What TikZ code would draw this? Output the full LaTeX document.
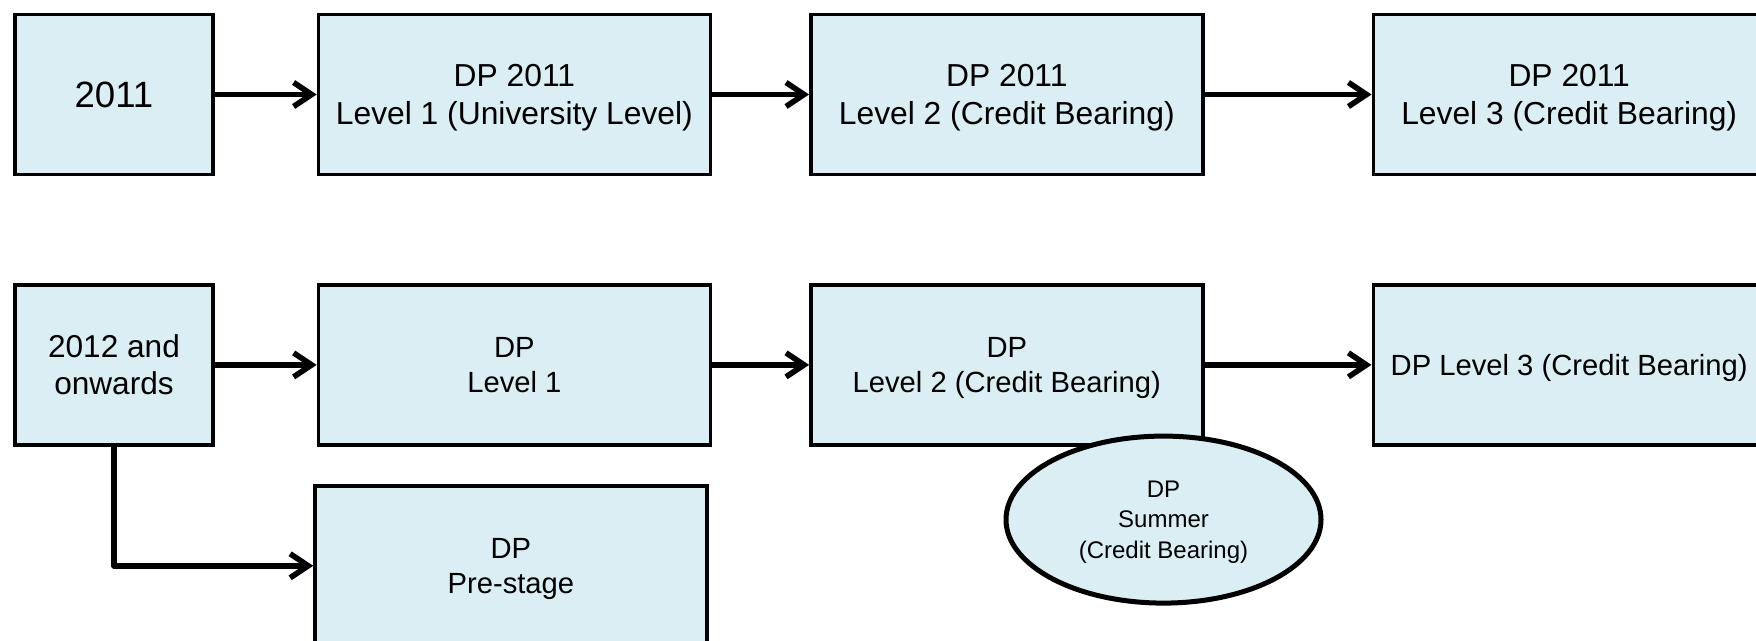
\documentclass[tikz,border=0pt]{standalone}
\usepackage{fontspec}
\setmainfont{Liberation Sans}
\usetikzlibrary{positioning,arrows.meta,shapes.geometric}
\definecolor{boxfill}{HTML}{DAEEF3}
\tikzset{
>={Straight Barb[length=9pt,width=12pt]},
  yearbox/.style={
    rectangle,
    fill=boxfill,
    draw=black, line width=1.7pt,
    minimum width=99pt,
    minimum height=80pt,
    align=center},
  levelbox/.style={
    rectangle,
    fill=boxfill,
    draw=black, line width=1.7pt,
    minimum width=196pt,
    minimum height=80pt,
    text depth=0pt,
    align=center,
    font=\fontsize{14.6}{17.5}\selectfont},
  oldlevel/.style={
    levelbox,
    font=\fontsize{15.9}{19}\selectfont},
  summerbox/.style={
    ellipse,
    fill=boxfill,
    draw=black, line width=2.5pt,
    minimum width=157.5pt,
    minimum height=83.5pt,
    inner sep=0pt,
    text depth=0pt,
    align=center,
    font=\fontsize{12}{15.25}\selectfont},
  line/.style={draw, line width=2.8pt, ->, line join=round},
}
\begin{document}
\begin{tikzpicture}
\useasboundingbox (0,0) rectangle (878pt,-320.5pt);
% 2011 intake
\node[yearbox, font=\fontsize{18.3}{21}\selectfont] (Old) at (57pt,-47.25pt) {2011};
\node[oldlevel, right=51pt of Old] (OldLevelOne) {DP 2011\\Level 1 (University Level)};
\node[oldlevel, right=48.5pt of OldLevelOne] (OldLevelTwo) {DP 2011\\Level 2 (Credit Bearing)};
\node[oldlevel, right=83.5pt of OldLevelTwo] (OldLevelThree) {DP 2011\\Level 3 (Credit Bearing)};

% 2012 and onwards
\node[yearbox, font=\fontsize{15.8}{18.5}\selectfont, below=53.5pt of Old] (New) {2012 and\\onwards};
\node[levelbox, right=51pt of New] (NewLevelOne) {DP\\Level 1};
\node[levelbox, right=48.5pt of NewLevelOne] (NewLevelTwo) {DP\\Level 2 (Credit Bearing)};
\node[levelbox, right=83.5pt of NewLevelTwo] (NewLevelThree) {DP Level 3 (Credit Bearing)};
\node[levelbox, below=18.75pt of NewLevelOne, xshift=-1.75pt] (PreStage) {DP\\Pre-stage};
\node[summerbox] (Summer) at ([xshift=-20.5pt,yshift=-36.5pt]NewLevelTwo.south east) {DP\\Summer\\(Credit Bearing)};

\draw[line] (Old) -- (OldLevelOne);
\draw[line] (OldLevelOne) -- (OldLevelTwo);
\draw[line] (OldLevelTwo) -- (OldLevelThree);
\draw[line] (New) -- (NewLevelOne);
\draw[line] (NewLevelOne) -- (NewLevelTwo);
\draw[line] (NewLevelTwo) -- (NewLevelThree);
\draw[line] (New.south) |- (PreStage.west);
\end{tikzpicture}
\end{document}
